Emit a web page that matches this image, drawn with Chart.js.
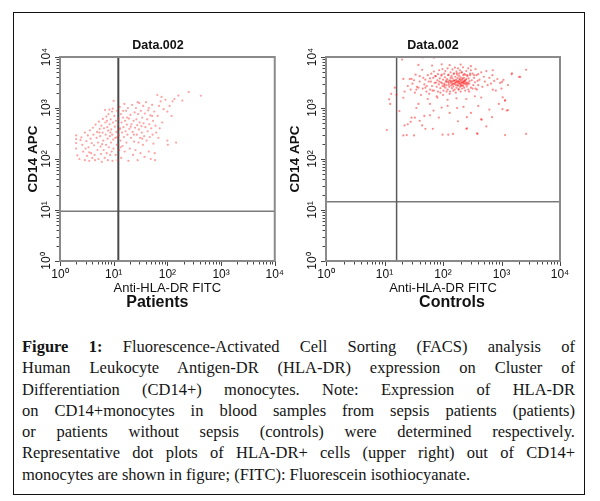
<!DOCTYPE html>
<html lang="en">
<head>
<meta charset="UTF-8">
<title>FACS HLA-DR on CD14+ monocytes</title>
<script src="https://cdn.jsdelivr.net/npm/chart.js"></script>
<style>
  body { margin: 0; background: #fff; }
  #fig { position: relative; width: 600px; height: 501px; overflow: hidden; }
  #frame { position: absolute; left: 13px; top: 12px; width: 570px; height: 481px; border: 1px solid #111; }
  canvas { position: absolute; }
  #caption { position: absolute; left: 22px; top: 336px; width: 553px;
             font: 16.5px/21.3px "Liberation Serif", "Times New Roman", serif; color: #151515; }
  #caption div { text-align: justify; text-align-last: justify; }
  #caption div.last { text-align: left; text-align-last: left; }
</style>
</head>
<body>
<div id="fig">
  <div id="frame"></div>
  <canvas id="patientsChart" width="276" height="290" style="left:14px;top:26px"></canvas>
  <canvas id="controlsChart" width="296" height="290" style="left:284px;top:26px"></canvas>
  <div id="caption">
    <div><b>Figure 1:</b> Fluorescence-Activated Cell Sorting (FACS) analysis of</div>
    <div>Human Leukocyte Antigen-DR (HLA-DR) expression on Cluster of</div>
    <div>Differentiation (CD14+) monocytes. Note: Expression of HLA-DR</div>
    <div>on CD14+monocytes in blood samples from sepsis patients (patients)</div>
    <div>or patients without sepsis (controls) were determined respectively.</div>
    <div>Representative dot plots of HLA-DR+ cells (upper right) out of CD14+</div>
    <div class="last">monocytes are shown in figure; (FITC): Fluorescein isothiocyanate.</div>
  </div>
</div>

<script>
// axis decades and their labels
const decades = [1, 10, 100, 1000, 10000];
const tickLabels = ['10⁰', '10¹', '10²', '10³', '10⁴'];

const panelTitle = 'Data.002';
const xTitle = 'Anti-HLA-DR FITC';
const yTitle = 'CD14 APC';
const panelNames = ['Patients', 'Controls'];

// quadrant gates: [HLA-DR cut, CD14 cut]
const patientsGate = [12.2, 9.4];
const controlsGate = [16.1, 14.5];

// events: [HLA-DR FITC, CD14 APC]
const patients = [
  [2.0,290],[2.0,245],[2.0,205],[2.0,160],[2.1,118],[2.3,100],[2.5,265],[2.6,190],[2.7,140],[2.9,95],
  [2.9,330],[3.1,225],[3.2,115],[3.3,290],[3.4,170],[3.5,92],[3.6,365],[3.7,250],[3.8,130],[3.9,205],
  [4.0,105],[3.0,160],[2.4,235],[3.5,135],
  [4.1,410],[4.2,300],[4.3,185],[4.4,120],[4.5,95],[4.6,470],[4.8,260],[4.9,340],[5.0,150],[5.1,210],
  [5.2,100],[5.3,540],[5.5,390],[5.6,280],[5.7,175],[5.8,125],[5.9,450],[6.0,88],[6.2,330],[6.3,610],
  [6.4,230],[6.5,150],[6.6,400],[6.8,105],[6.9,910],[7.0,520],[7.1,300],[7.2,190],[7.3,680],[7.4,130],
  [7.6,420],[7.7,250],[7.8,95],[7.9,360],[8.0,760],[8.1,170],[8.3,930],[8.4,480],[8.5,280],[8.6,120],
  [8.8,600],[8.9,210],[9.0,380],[9.2,140],[9.3,850],[9.4,300],[9.5,92],[9.6,970],[9.7,520],[9.8,240],
  [9.9,160],[5.4,330],[6.1,195],[7.5,560],[8.7,330],
  [10,1380],[10.3,700],[10.5,430],[10.7,260],[10.9,120],[11,560],[11.2,340],[11.4,190],[11.6,880],[11.8,95],
  [12,470],[12.3,620],[12.5,290],[12.7,150],[13,1050],[13.2,400],[13.4,230],[13.6,760],[13.8,105],[14,520],
  [14.3,330],[14.6,180],[14.9,650],[15.2,420],[15.5,270],[15.8,1200],[16,140],[16.3,560],[16.6,350],[17,880],
  [17.3,210],[17.6,470],[18,300],[18.4,1000],[18.8,92],[19.2,620],[19.6,390],[20,160],[20.5,730],[21,260],
  [21.5,480],[22,1150],[22.5,340],[23,120],[23.5,560],[24,220],[24.5,820],[25,410],[11.5,265],[12.8,380],
  [15,880],[17.8,650],[20.8,430],[23.8,300],[13.5,170],
  [25.5,150],[26,1000],[26.5,600],[27,300],[27.5,460],[28,95],[28.5,760],[29,210],[29.5,380],[30,1250],
  [30.5,520],[31,260],[31.5,130],[32,880],[33,440],[33.5,330],[34,650],[35,190],[35.5,1100],[36,500],
  [37,280],[37.5,110],[38,780],[39,420],[40,1300],[41,230],[42,600],[43,350],[44,900],[45,140],
  [46,480],[47,270],[48,720],[49,100],[50,400],[52,1150],[53,300],[54,560],[55,200],[57,850],
  [58,130],[60,450],[62,330],[28,1300],[34,250],[45,1000],[52,700],[59,95],
  [65,1800],[66,700],[70,1100],[72,400],[75,1350],[80,520],[85,950],[92,1450],[100,230],[102,190],
  [110,1100],[120,700],[125,1350],[135,1500],[145,210],[160,1750],[190,1400],[250,2050],[420,1740],[68,260],
  [78,1650],[100,850]
];

const controls = [
  // dense core
  [60,2300],[62,3300],[65,2700],[68,3900],[70,2200],[72,3100],[75,4200],[78,2600],[80,3500],[82,2100],
  [85,2900],[88,3800],[90,2450],[92,3200],[95,4500],[98,2700],[100,3600],[102,2200],[105,3000],[108,4000],
  [110,2500],[112,3300],[115,2800],[118,3700],[120,2300],[122,4400],[125,3100],[128,2600],[130,3500],[132,2100],
  [135,3900],[138,2750],[140,3250],[142,2450],[145,3800],[148,3000],[150,2650],[152,4600],[155,3400],[158,2300],
  [160,3100],[162,4100],[165,2850],[168,3600],[170,2500],[172,4800],[175,3200],[178,3900],[180,2750],[182,3400],
  [185,2350],[188,4300],[190,3050],[192,3700],[195,2600],[198,3300],[200,4000],[202,2800],[205,3500],[208,5000],
  [210,3100],[212,2400],[215,3800],[218,3300],[220,2700],[222,4400],[225,3050],[228,3900],[230,2500],[235,3400],
  [240,4500],[245,2900],[250,3700],[255,2650],[260,4200],[265,3150],[270,2300],[275,3800],[280,3000],[290,4400],
  [300,2500],[310,3500],[320,4700],[330,2800],[340,3900],[350,3200],[360,2400],[375,4400],[390,3400],[400,2800],
  [96,3050],[104,2650],[116,3250],[126,2850],[136,3100],[146,3350],[156,2950],[166,3150],[176,2800],[186,3300],
  [196,2950],[206,3150],[216,2800],[226,3300],[236,3000],[246,3200],[256,3050],[114,3500],[134,3400],[154,3500],
  [174,3300],[194,3600],[214,3650],[234,3450],[76,3150],[86,3300],[106,2850],[124,3300],[144,2900],[164,3450],
  [184,3050],[204,2700],[224,3150],[244,3550],[264,2900],[284,3350],
  // halo
  [22,2100],[25,2700],[28,2300],[30,3000],[33,2000],[36,2600],[40,3300],[42,1800],[45,2400],[48,2900],
  [50,3600],[52,2100],[55,4400],[58,1900],[60,3800],[63,4700],[66,2200],[70,5200],[74,4200],[78,1700],
  [82,4600],[86,5500],[90,2000],[94,4300],[98,5800],[100,1800],[105,4700],[110,5300],[115,2100],[120,6000],
  [125,4500],[130,1900],[135,5000],[140,4200],[145,5700],[150,2200],[155,4800],[160,6200],[165,2000],[170,5200],
  [175,4500],[180,6000],[185,2300],[190,4800],[195,5500],[200,2100],[210,5000],[220,6300],[230,4600],[240,2200],
  [250,5300],[260,4400],[270,6000],[280,2100],[290,4700],[300,5500],[320,2400],[340,4400],[360,5800],[380,2300],
  [400,4600],[420,3600],[450,5000],[470,2600],[500,4100],[520,3300],[550,5300],[580,2800],[620,3900],[660,3000],
  [700,4400],[710,5500],[750,3400],[800,2200],[850,3700],[950,3100],[1000,2400],[1080,3550],[1150,1400],[1490,4570],
  [2090,4070],[2630,5620],[710,2290],[450,1600],[350,1700],[250,1500],[170,1550],[120,1450],[80,1600],[55,1500],
  [38,7000],[65,6800],[95,7200],[130,6900],[200,7100],[300,6600],[44,5600],[34,4500],[27,3700],[20,8900],
  [45,9800],[70,9700],[1510,4790],[2000,4070],[1020,3240],[1290,2820],
  [32,3500],[38,2500],[46,3900],[53,2700],[57,3300],[40,4200],[35,2300],[50,2500],
  // sparse lower events and left of the gate
  [11,370],[12.5,1200],[12,1480],[15,2500],[16,1820],[13,1900],[21,1590],[22,455],[25,480],[21,290],
  [24,295],[32,290],[29,645],[33,645],[38,1200],[44,455],[50,390],[69,890],[67,390],[98,300],
  [148,310],[174,1000],[224,1050],[256,660],[250,390],[390,310],[460,590],[550,435],[620,930],[1040,950],
  [1230,890],[1150,1410],[1150,295],[2630,310],[21,3720],[29,3720],[35,1000],[48,700],[85,650],[130,800],
  [300,800],[120,1100],[60,1200],[40,560],[180,550],[400,1100],[900,1200],[18,870],[28,535],[60,720],
  [95,1020],[123,300],[257,400],[380,320],[447,600],[690,660],[1050,1620],[1290,910]
];

Chart.defaults.font.family = '"Liberation Sans", Arial, Helvetica, sans-serif';
Chart.defaults.color = '#111';

// frame, log tick marks, rotated y labels and the panel name
const facsFrame = {
  id: 'facsFrame',
  afterDatasetsDraw(chart, args, opts) {
    const { ctx, chartArea: a, scales: { x, y } } = chart;
    ctx.save();
    ctx.strokeStyle = '#444';
    ctx.lineWidth = 1;
    decades.forEach((d, i) => {
      const steps = i === decades.length - 1 ? 1 : 9;
      for (let m = 1; m <= steps; m++) {
        const len = m === 1 ? 4 : 2.5;
        const px = Math.round(x.getPixelForValue(d * m)) + 0.5;
        const py = Math.round(y.getPixelForValue(d * m)) + 0.5;
        ctx.beginPath();
        ctx.moveTo(px, a.bottom);
        ctx.lineTo(px, a.bottom + 1 + len);
        ctx.moveTo(a.left, py);
        ctx.lineTo(a.left - 1 - len, py);
        ctx.stroke();
      }
    });
    ctx.strokeStyle = '#8a8a8a';
    ctx.lineWidth = 2;
    ctx.strokeRect(a.left, a.top, a.right - a.left, a.bottom - a.top);

    ctx.fillStyle = '#111';
    ctx.font = '12px "Liberation Sans", Arial, sans-serif';
    ctx.textAlign = 'center';
    ctx.textBaseline = 'middle';
    decades.forEach((d, i) => {
      ctx.save();
      ctx.translate(a.left - 13, y.getPixelForValue(d));
      ctx.rotate(-Math.PI / 2);
      ctx.fillText(tickLabels[i], 0, 0);
      ctx.restore();
    });

    ctx.font = 'bold 16px "Liberation Sans", Arial, sans-serif';
    ctx.fillText(opts.name, (a.left + a.right) / 2 + opts.nameDx, a.bottom + 42);
    ctx.restore();
  }
};

function makePlot(id, points, gate, cfg) {
  return new Chart(document.getElementById(id), {
    type: 'scatter',
    data: {
      datasets: [
        {
          data: points.map(p => ({ x: p[0], y: p[1] })),
          pointRadius: 1.1,
          pointBorderWidth: 0,
          pointBackgroundColor: cfg.pointColor
        },
        {
          data: [{ x: gate[0], y: 1 }, { x: gate[0], y: 10000 }],
          showLine: true, pointRadius: 0,
          borderColor: cfg.vColor, borderWidth: cfg.vWidth
        },
        {
          data: [{ x: 1, y: gate[1] }, { x: 10000, y: gate[1] }],
          showLine: true, pointRadius: 0,
          borderColor: '#7a7a7a', borderWidth: 1.5
        }
      ]
    },
    options: {
      responsive: false,
      animation: false,
      devicePixelRatio: 1,
      layout: { padding: { left: cfg.padLeft, right: cfg.padRight, top: 0, bottom: 15 } },
      plugins: {
        legend: { display: false },
        tooltip: { enabled: false },
        title: {
          display: true, text: panelTitle,
          font: { size: 12.5, weight: 'bold' },
          padding: { top: 12, bottom: 4 }
        },
        facsFrame: { name: cfg.name, nameDx: cfg.nameDx }
      },
      scales: {
        x: {
          type: 'logarithmic', min: 1, max: 10000,
          grid: { display: false, drawTicks: false },
          border: { display: false },
          afterBuildTicks: s => { s.ticks = decades.map(v => ({ value: v })); },
          afterFit: s => { s.height = 40; },
          ticks: {
            autoSkip: false, maxRotation: 0, padding: 6,
            font: { size: 12 },
            callback: (v, i) => tickLabels[i]
          },
          title: {
            display: true, text: xTitle,
            font: { size: 13 },
            padding: { top: 0, bottom: 5 }
          }
        },
        y: {
          type: 'logarithmic', min: 1, max: 10000,
          grid: { display: false, drawTicks: false },
          border: { display: false },
          ticks: { display: false },
          afterFit: s => { s.width = cfg.yWidth; },
          title: {
            display: true, text: yTitle,
            font: { size: 13.5, weight: 'bold' },
            padding: { top: cfg.yTitlePad, bottom: 0 }
          }
        }
      }
    },
    plugins: [facsFrame]
  });
}

makePlot('patientsChart', patients, patientsGate, {
  name: panelNames[0], nameDx: -10, padLeft: 25, padRight: 13, yWidth: 21, yTitlePad: -14,
  pointColor: 'rgba(255,70,70,0.5)', vColor: '#4a4a4a', vWidth: 2
});
makePlot('controlsChart', controls, controlsGate, {
  name: panelNames[1], nameDx: 9, padLeft: 22, padRight: 20, yWidth: 20, yTitlePad: -19,
  pointColor: 'rgba(255,25,25,0.5)', vColor: '#5a5a5a', vWidth: 1.5
});
</script>
</body>
</html>
